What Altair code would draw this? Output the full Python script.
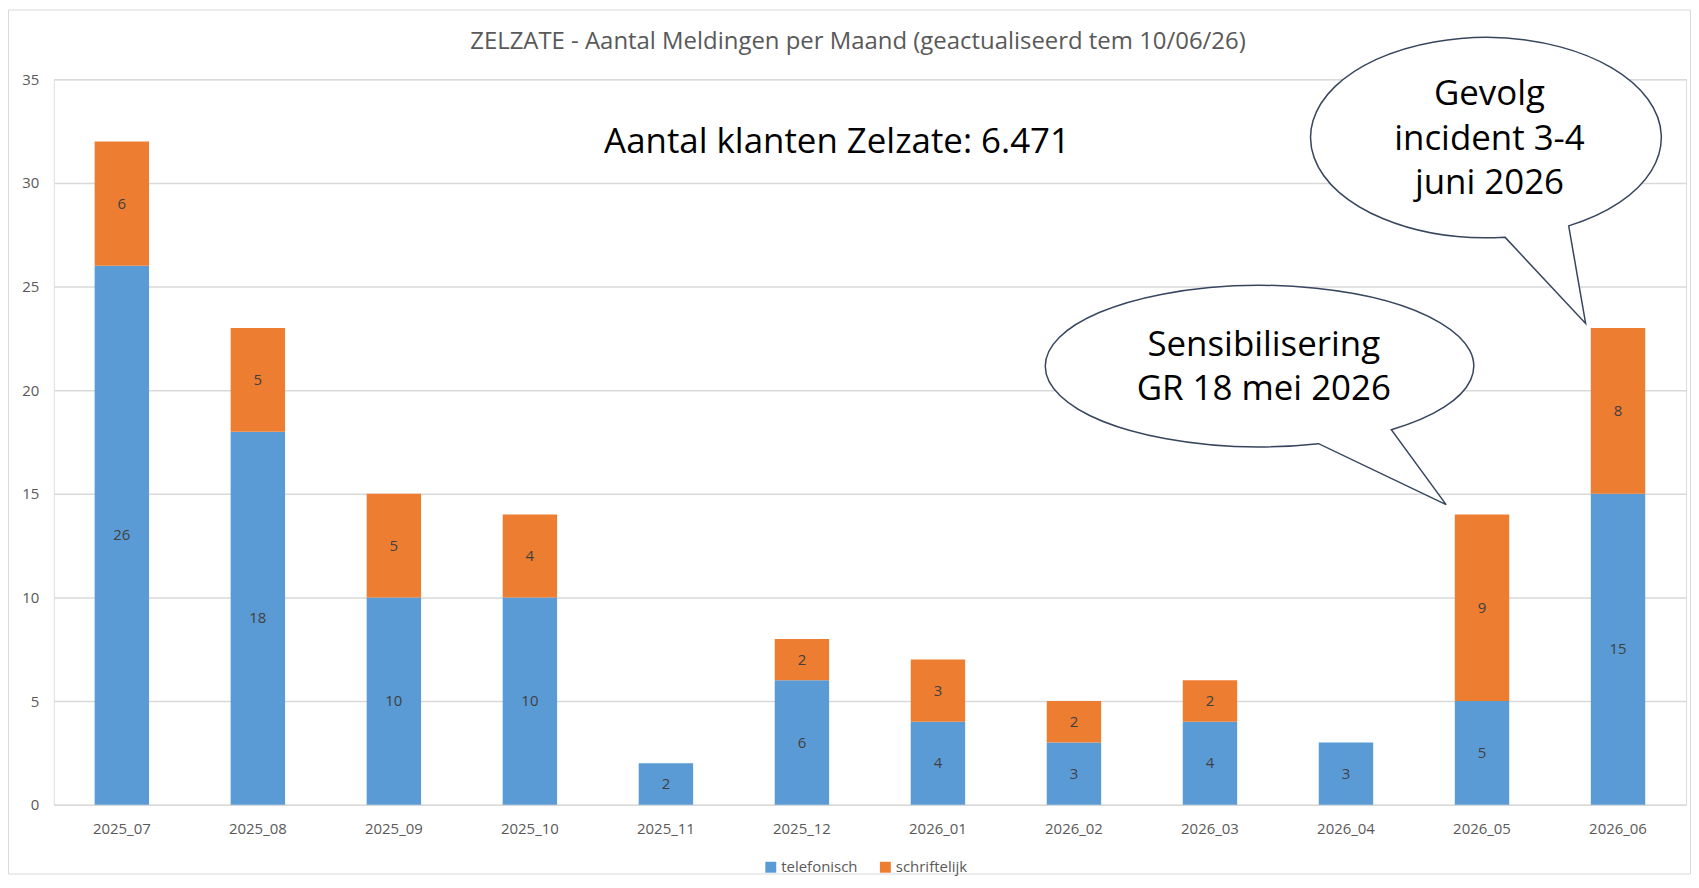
import altair as alt
import pandas as pd

# ---------------- data ----------------
months = ["2025_07", "2025_08", "2025_09", "2025_10", "2025_11", "2025_12",
          "2026_01", "2026_02", "2026_03", "2026_04", "2026_05", "2026_06"]
telefonisch = [26, 18, 10, 10, 2, 6, 4, 3, 4, 3, 5, 15]
schriftelijk = [6, 5, 5, 4, 0, 2, 3, 2, 2, 0, 9, 8]
series_names = ["telefonisch", "schriftelijk"]
series_colors = ["#5B9BD5", "#ED7D31"]
y_ticks = [0, 5, 10, 15, 20, 25, 30, 35]

title_text = "ZELZATE - Aantal Meldingen per Maand (geactualiseerd tem 10/06/26)"
note_text = "Aantal klanten Zelzate: 6.471"
callout_months = ["2026_05", "2026_06"]
callout_texts = ["Sensibilisering\nGR 18 mei 2026", "Gevolg\nincident 3-4\njuni 2026"]

# ---------------- tables ----------------
rows = []
for i, m in enumerate(months):
    rows.append({"maand": m, "type": series_names[0], "aantal": telefonisch[i], "volgorde": 0})
    rows.append({"maand": m, "type": series_names[1], "aantal": schriftelijk[i], "volgorde": 1})
df = pd.DataFrame(rows)

totals = {m: t + s for m, t, s in zip(months, telefonisch, schriftelijk)}
callouts = pd.DataFrame({
    "maand": callout_months,
    "totaal": [totals[m] for m in callout_months],
    "tekst": callout_texts,
})

W, H = 1638, 728
FONT = "Open Sans"
GREY = "#595959"
LINE_H = 45

x_enc = alt.X(
    "maand:N", sort=months,
    scale=alt.Scale(paddingInner=0.6, paddingOuter=0.3),
    axis=alt.Axis(title=None, labelAngle=0, ticks=False, domain=False,
                  labelPadding=17, labelFontSize=15, labelColor=GREY,
                  labelFont=FONT, grid=False),
)
y_scale = alt.Scale(domain=[0, 35])

bars = alt.Chart(df).mark_bar().encode(
    x=x_enc,
    y=alt.Y("aantal:Q", stack="zero", scale=y_scale,
            axis=alt.Axis(title=None, values=y_ticks, ticks=False, domain=False,
                          labelPadding=15, labelFontSize=15, labelColor=GREY,
                          labelFont=FONT, gridColor="#D9D9D9", gridWidth=1.5)),
    color=alt.Color("type:N",
                    scale=alt.Scale(domain=series_names, range=series_colors),
                    legend=alt.Legend(title=None, orient="none", legendX=712, legendY=783,
                                      direction="horizontal", symbolType="square",
                                      symbolSize=120, symbolStrokeWidth=0,
                                      labelFontSize=15, labelColor=GREY, labelFont=FONT,
                                      labelOffset=3, columnPadding=20, padding=0)),
    order=alt.Order("volgorde:Q", sort="ascending"),
)

labels = alt.Chart(df).transform_filter(
    alt.datum.aantal > 0
).transform_stack(
    stack="aantal", groupby=["maand"],
    sort=[alt.SortField("volgorde", order="ascending")], as_=["y0", "y1"]
).transform_calculate(
    mid="(datum.y0 + datum.y1) / 2"
).mark_text(fontSize=15, color="#404040", font=FONT, baseline="middle").encode(
    x=alt.X("maand:N", sort=months),
    y=alt.Y("mid:Q", scale=y_scale),
    text="aantal:Q",
)

title_mark = alt.Chart(pd.DataFrame({"t": [title_text]})).mark_text(
    fontSize=24, color=GREY, font=FONT, baseline="middle", align="center"
).encode(text="t:N", x=alt.value(807), y=alt.value(-37))

note = alt.Chart(pd.DataFrame({"t": [note_text]})).mark_text(
    fontSize=35, color="black", font=FONT, baseline="middle", align="center"
).encode(text="t:N", x=alt.value(786), y=alt.value(63))

frame = alt.Chart(pd.DataFrame({"a": [0]})).mark_rect(
    filled=False, stroke="#D9D9D9", strokeWidth=1
).encode(x=alt.value(-45.5), x2=alt.value(W + 4.5), y=alt.value(-69.5), y2=alt.value(H + 69.5))

bubble_paths = [
    "M -164 -71.1 A 215 81 0 1 1 -91 -85.1 L -36 -10 Z",
    "M -113.5 -91.2 A 176 100.5 0 1 1 -49.5 -102.5 L -32.5 -4.6 Z",
]
text_centers = [(-219, -148), (-129, -190)]

layers = [frame, bars, labels, title_mark, note]
for i in range(len(callout_months)):
    n_lines = callout_texts[i].count("\n") + 1
    dx, dy = text_centers[i]
    dy = dy - (n_lines - 1) * LINE_H / 2
    src = alt.Chart(callouts).transform_filter(alt.datum.maand == callout_months[i])
    bubble = src.mark_point(
        shape=bubble_paths[i], size=4, filled=True, fill="white",
        stroke="#37465E", strokeWidth=1.5, opacity=1
    ).encode(x=alt.X("maand:N", sort=months), y=alt.Y("totaal:Q", scale=y_scale))
    txt = src.mark_text(
        lineBreak="\n", fontSize=35, font=FONT, color="black", align="center",
        baseline="middle", lineHeight=LINE_H, dx=dx, dy=dy
    ).encode(x=alt.X("maand:N", sort=months), y=alt.Y("totaal:Q", scale=y_scale),
             text="tekst:N")
    layers += [bubble, txt]

chart = alt.layer(*layers).properties(
    width=W, height=H,
    padding={"left": 46, "top": 70, "right": 5, "bottom": 70},
    autosize=alt.AutoSizeParams(type="none"),
).configure_view(strokeWidth=0).configure(font=FONT)

chart.save("out.html", embed_options={"renderer": "svg", "actions": False})
